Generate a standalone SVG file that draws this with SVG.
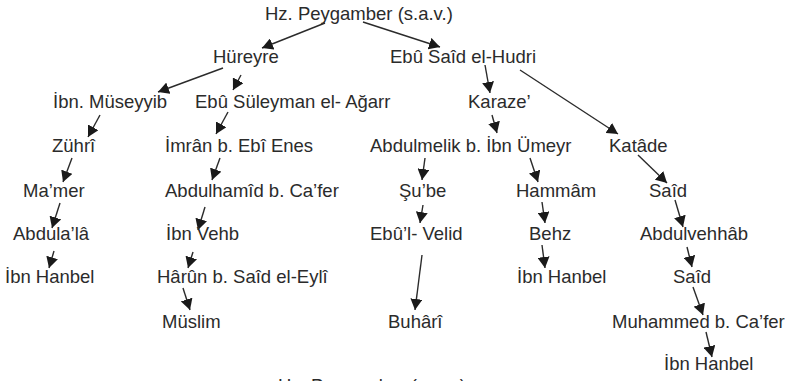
<svg xmlns="http://www.w3.org/2000/svg" width="790" height="381" viewBox="0 0 790 381">
<defs>
<marker id="ah" markerUnits="userSpaceOnUse" markerWidth="12" markerHeight="12" refX="11" refY="6" orient="auto">
<path d="M0,0 L11,6 L0,12 z" fill="#1a1a1a"/>
</marker>
<style>
text{font-family:"Liberation Sans",Arial,sans-serif;font-size:18.5px;fill:#2b2b2b}
.c line{stroke:#2b2b2b;stroke-width:1.4;marker-end:url(#ah)}
</style>
</defs>
<rect width="790" height="381" fill="#fff"/>
<g class="c" id="connectors">
<line x1="325" y1="23" x2="262" y2="48"/>
<line x1="363" y1="22" x2="440" y2="47"/>
<line x1="223" y1="68" x2="158" y2="92"/>
<line x1="241" y1="75" x2="233" y2="90"/>
<line x1="100" y1="115" x2="88" y2="137"/>
<line x1="228" y1="112" x2="216" y2="134"/>
<line x1="72" y1="158" x2="63" y2="182"/>
<line x1="220" y1="158" x2="212" y2="180"/>
<line x1="60" y1="203" x2="52" y2="228"/>
<line x1="205" y1="207" x2="198" y2="230"/>
<line x1="54" y1="251" x2="49" y2="268"/>
<line x1="193" y1="252" x2="188" y2="268"/>
<line x1="183" y1="288" x2="190" y2="310"/>
<line x1="485" y1="65" x2="490" y2="93"/>
<line x1="520" y1="70" x2="618" y2="134"/>
<line x1="492" y1="115" x2="497" y2="133"/>
<line x1="425" y1="158" x2="422" y2="180"/>
<line x1="530" y1="158" x2="538" y2="182"/>
<line x1="638" y1="155" x2="667" y2="183"/>
<line x1="423" y1="205" x2="420" y2="223"/>
<line x1="542" y1="202" x2="545" y2="223"/>
<line x1="675" y1="200" x2="683" y2="227"/>
<line x1="422" y1="255" x2="415" y2="310"/>
<line x1="542" y1="245" x2="545" y2="268"/>
<line x1="687" y1="247" x2="692" y2="267"/>
<line x1="693" y1="287" x2="703" y2="315"/>
<line x1="706" y1="332" x2="712" y2="357"/>
</g>
<g id="n-peygamber"><text x="265" y="20">Hz. Peygamber (s.a.v.)</text></g>
<g id="n-hureyre"><text x="213" y="63">Hüreyre</text></g>
<g id="n-ebusaid"><text x="390" y="63">Ebû Saîd el-Hudri</text></g>
<g id="n-musayyib"><text x="53" y="108">İbn. Müseyyib</text></g>
<g id="n-ebusuleyman"><text x="195" y="108">Ebû Süleyman el- Ağarr</text></g>
<g id="n-karaze"><text x="468" y="108">Karaze’</text></g>
<g id="n-zuhri"><text x="52" y="152">Zührî</text></g>
<g id="n-imran"><text x="165" y="152">İmrân b. Ebî Enes</text></g>
<g id="n-abdulmelik"><text x="370" y="152">Abdulmelik b. İbn Ümeyr</text></g>
<g id="n-katade"><text x="609" y="152">Katâde</text></g>
<g id="n-mamer"><text x="23" y="197">Ma’mer</text></g>
<g id="n-abdulhamid"><text x="165" y="197">Abdulhamîd b. Ca’fer</text></g>
<g id="n-shube"><text x="399" y="197">Şu’be</text></g>
<g id="n-hammam"><text x="516" y="197">Hammâm</text></g>
<g id="n-said1"><text x="649" y="197">Saîd</text></g>
<g id="n-abdulala"><text x="13" y="240">Abdula’lâ</text></g>
<g id="n-ibnvehb"><text x="166" y="240">İbn Vehb</text></g>
<g id="n-ebulvelid"><text x="370" y="240">Ebû’l- Velid</text></g>
<g id="n-behz"><text x="529" y="240">Behz</text></g>
<g id="n-abdulvehhab"><text x="640" y="240">Abdulvehhâb</text></g>
<g id="n-ibnhanbel1"><text x="5" y="283">İbn Hanbel</text></g>
<g id="n-harun"><text x="157" y="283">Hârûn b. Saîd el-Eylî</text></g>
<g id="n-ibnhanbel2"><text x="517" y="283">İbn Hanbel</text></g>
<g id="n-said2"><text x="673" y="283">Saîd</text></g>
<g id="n-muslim"><text x="162" y="328">Müslim</text></g>
<g id="n-buhari"><text x="388" y="328">Buhârî</text></g>
<g id="n-muhammed"><text x="612" y="328">Muhammed b. Ca’fer</text></g>
<g id="n-ibnhanbel3"><text x="664" y="370">İbn Hanbel</text></g>
<g id="n-peygamber-cut"><text x="278" y="392">Hz. Peygamber (s.a.v.)</text></g>
</svg>
